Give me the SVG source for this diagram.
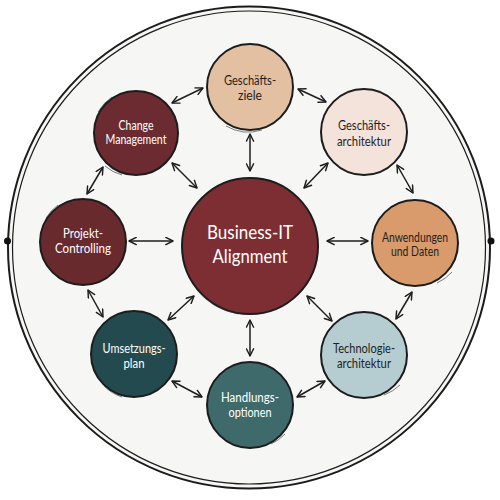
<svg xmlns="http://www.w3.org/2000/svg" width="500" height="500" viewBox="0 0 500 500">
  <defs>
    <marker id="ah" viewBox="0 0 10 10" refX="9" refY="5" markerWidth="9" markerHeight="9" markerUnits="userSpaceOnUse" orient="auto-start-reverse">
      <path d="M1,1 L9,5 L1,9" fill="none" stroke="#1e1e1e" stroke-width="1.6" stroke-linecap="round" stroke-linejoin="round"/>
    </marker>
    <style>
      .node { stroke: #1c1c1c; stroke-width: 2; }
      .sk { fill: none; stroke: #333; stroke-width: 0.9; opacity: 0.7; }
      .conn line { stroke: #1e1e1e; stroke-width: 1.5; marker-start: url(#ah); marker-end: url(#ah); }
      .t { font-family: Lato, "Noto Sans", sans-serif; font-size: 12.5px; text-anchor: middle; }
      .dark { fill: #1f1f1f; }
      .light { fill: #ffffff; }
      .big { font-family: Lato, "Noto Sans", sans-serif; font-size: 20px; text-anchor: middle; fill: #ffffff; }
    </style>
  </defs>
  <rect width="500" height="500" fill="#ffffff"/>
  <g id="frame">
    <circle cx="249" cy="247.5" r="241" fill="#f6f6f5" stroke="#1c1c1c" stroke-width="2"/>
    <circle cx="249" cy="247.5" r="236.5" fill="none" stroke="#1c1c1c" stroke-width="1.2"/>
    <circle cx="7.5" cy="241" r="3.5" fill="#111"/>
    <circle cx="491" cy="241" r="3.5" fill="#111"/>
  </g>
  <g class="conn">
    <line x1="298" y1="89" x2="326" y2="102"/>
    <line x1="250" y1="134" x2="250" y2="171"/>
    <line x1="172" y1="103" x2="203" y2="88"/>
    <line x1="172" y1="163" x2="197" y2="188"/>
    <line x1="103" y1="167" x2="87" y2="194"/>
    <line x1="129" y1="241" x2="173" y2="241"/>
    <line x1="328" y1="163" x2="304" y2="188"/>
    <line x1="397" y1="165" x2="413" y2="193"/>
    <line x1="327" y1="241" x2="368" y2="241"/>
    <line x1="412" y1="292" x2="396" y2="319"/>
    <line x1="307" y1="296" x2="332" y2="321"/>
    <line x1="325" y1="381" x2="297" y2="397"/>
    <line x1="250" y1="320" x2="250" y2="356"/>
    <line x1="172" y1="381" x2="202" y2="397"/>
    <line x1="168" y1="320" x2="194" y2="296"/>
    <line x1="88" y1="290" x2="103" y2="317"/>
  </g>
  <g id="center">
    <circle class="node" cx="250" cy="246" r="68" fill="#7d2e33"/>
    <path class="sk" d="M196,289 A70,70 0 0 0 238,314"/>
    <text class="big" x="250" y="239" textLength="86" lengthAdjust="spacingAndGlyphs">Business-IT</text>
    <text class="big" x="250" y="263" textLength="75" lengthAdjust="spacingAndGlyphs">Alignment</text>
  </g>
  <g id="ziele">
    <circle class="node" cx="250" cy="87" r="43" fill="#e3c0a2"/>
    <path class="sk" d="M226,126 A45,45 0 0 0 262,130"/>
    <text class="t dark" x="250" y="85" textLength="52" lengthAdjust="spacingAndGlyphs">Geschäfts-</text>
    <text class="t dark" x="250" y="100" textLength="24" lengthAdjust="spacingAndGlyphs">ziele</text>
  </g>
  <g id="garch">
    <circle class="node" cx="364" cy="132" r="43" fill="#f3e3db"/>
    <text class="t dark" x="364" y="130" textLength="52" lengthAdjust="spacingAndGlyphs">Geschäfts-</text>
    <text class="t dark" x="364" y="146" textLength="54" lengthAdjust="spacingAndGlyphs">architektur</text>
  </g>
  <g id="anw">
    <circle class="node" cx="415" cy="243" r="43" fill="#d99a6c"/>
    <path class="sk" d="M437,283 A45,45 0 0 0 452,272"/>
    <text class="t dark" x="415" y="242" textLength="66" lengthAdjust="spacingAndGlyphs">Anwendungen</text>
    <text class="t dark" x="415" y="256" textLength="48" lengthAdjust="spacingAndGlyphs">und Daten</text>
  </g>
  <g id="tech">
    <circle class="node" cx="364" cy="355" r="43" fill="#b5cdd1"/>
    <path class="sk" d="M384,395 A45,45 0 0 0 400,385"/>
    <text class="t dark" x="364" y="353" textLength="62" lengthAdjust="spacingAndGlyphs">Technologie-</text>
    <text class="t dark" x="364" y="368" textLength="54" lengthAdjust="spacingAndGlyphs">architektur</text>
  </g>
  <g id="handl">
    <circle class="node" cx="250" cy="405" r="43" fill="#3e6a6c"/>
    <path class="sk" d="M271,444 A45,45 0 0 0 285,434"/>
    <text class="t light" x="250" y="402" textLength="58" lengthAdjust="spacingAndGlyphs">Handlungs-</text>
    <text class="t light" x="250" y="417" textLength="43" lengthAdjust="spacingAndGlyphs">optionen</text>
  </g>
  <g id="umsetz">
    <circle class="node" cx="134" cy="354" r="43" fill="#234a4e"/>
    <path class="sk" d="M104,386 A45,45 0 0 0 122,397"/>
    <text class="t light" x="134" y="353" textLength="63" lengthAdjust="spacingAndGlyphs">Umsetzungs-</text>
    <text class="t light" x="134" y="368" textLength="21" lengthAdjust="spacingAndGlyphs">plan</text>
  </g>
  <g id="projekt">
    <circle class="node" cx="83" cy="242" r="43" fill="#692a2e"/>
    <path class="sk" d="M46,218 A45,45 0 0 1 58,205"/>
    <text class="t light" x="83" y="238" textLength="40" lengthAdjust="spacingAndGlyphs">Projekt-</text>
    <text class="t light" x="83" y="253" textLength="56" lengthAdjust="spacingAndGlyphs">Controlling</text>
  </g>
  <g id="change">
    <circle class="node" cx="136" cy="133" r="42" fill="#6c2b30"/>
    <path class="sk" d="M98,112 A44,44 0 0 1 112,97"/>
    <path class="sk" d="M105,166 A44,44 0 0 0 122,175"/>
    <text class="t light" x="136" y="130" textLength="35" lengthAdjust="spacingAndGlyphs">Change</text>
    <text class="t light" x="136" y="144" textLength="61" lengthAdjust="spacingAndGlyphs">Management</text>
  </g>
</svg>
